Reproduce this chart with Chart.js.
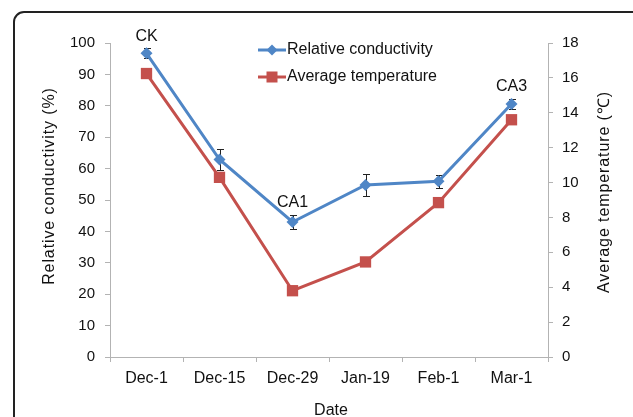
<!DOCTYPE html>
<html>
<head>
<meta charset="utf-8">
<script src="https://cdn.jsdelivr.net/npm/chart.js@4/dist/chart.umd.min.js"></script>
<style>
  html, body { margin:0; padding:0; background:#fff; overflow:hidden; }
  #wrap { position:relative; width:633px; height:417px; overflow:hidden; }
  #frame { position:absolute; left:13px; top:11px; width:700px; height:520px;
           border:2px solid #222; border-top-left-radius:11px; box-sizing:border-box; }
  canvas { position:absolute; left:0; top:0; }
</style>
</head>
<body>
<div id="wrap">
  <div id="frame"></div>
  <canvas id="c" width="633" height="417"></canvas>
</div>
<script>
const categories = ["Dec-1", "Dec-15", "Dec-29", "Jan-19", "Feb-1", "Mar-1"];
const conductivity = [96.7, 62.9, 43.0, 54.8, 56.0, 80.6];
const conductivityErr = [1.6, 3.2, 2.3, 3.4, 2.1, 1.6];
const temperature = [16.25, 10.3, 3.8, 5.45, 8.85, 13.6];
const pointLabels = ["CK", "", "CA1", "", "", "CA3"];
const leftTicks = { min: 0, max: 100, step: 10 };
const rightTicks = { min: 0, max: 18, step: 2 };
const seriesNames = ["Relative conductivity", "Average temperature"];
const axisTitles = { left: "Relative conductivity (%)", right: "Average temperature (℃)", bottom: "Date" };

const BLUE = "#4f86c6";
const RED = "#c4504c";
const AXIS = "#b3b3b3";
const FONT = "'Liberation Sans', Arial, Helvetica, sans-serif";

const overlay = {
  id: "overlay",
  beforeDatasetsDraw(chart) {
    const ctx = chart.ctx;
    const x = chart.scales.x, y = chart.scales.y;
    ctx.save();
    ctx.strokeStyle = "#222";
    ctx.lineWidth = 1;
    conductivity.forEach((v, i) => {
      const px = Math.round(x.getPixelForValue(i));
      const top = Math.round(y.getPixelForValue(v + conductivityErr[i]));
      const bot = Math.round(y.getPixelForValue(v - conductivityErr[i]));
      ctx.beginPath();
      ctx.moveTo(px + 0.5, top); ctx.lineTo(px + 0.5, bot);
      ctx.moveTo(px - 3, top + 0.5); ctx.lineTo(px + 4, top + 0.5);
      ctx.moveTo(px - 3, bot + 0.5); ctx.lineTo(px + 4, bot + 0.5);
      ctx.stroke();
    });
    ctx.restore();
  },
  afterDatasetsDraw(chart) {
    const ctx = chart.ctx;
    const x = chart.scales.x, y = chart.scales.y;
    ctx.save();
    ctx.font = "16px " + FONT;
    ctx.fillStyle = "#111";
    ctx.textAlign = "center";
    ctx.textBaseline = "middle";
    pointLabels.forEach((t, i) => {
      if (!t) return;
      const px = x.getPixelForValue(i);
      const top = y.getPixelForValue(conductivity[i] + conductivityErr[i]);
      ctx.fillText(t, px, top - 12);
    });
    ctx.restore();
  },
  afterDraw(chart) {
    const ctx = chart.ctx;
    const a = chart.chartArea;
    ctx.save();
    ctx.font = "16px " + FONT;
    ctx.fillStyle = "#111";
    ctx.textBaseline = "middle";
    // legend
    const lx = 258, ly = [50, 77];
    const cols = [BLUE, RED];
    seriesNames.forEach((n, i) => {
      ctx.strokeStyle = cols[i];
      ctx.lineWidth = 3;
      ctx.beginPath(); ctx.moveTo(lx, ly[i]); ctx.lineTo(lx + 28, ly[i]); ctx.stroke();
      ctx.fillStyle = cols[i];
      const cx = lx + 14;
      if (i === 0) {
        ctx.beginPath();
        ctx.moveTo(cx, ly[i] - 5.5); ctx.lineTo(cx + 5.5, ly[i]);
        ctx.lineTo(cx, ly[i] + 5.5); ctx.lineTo(cx - 5.5, ly[i]); ctx.closePath(); ctx.fill();
      } else {
        ctx.fillRect(cx - 5.5, ly[i] - 5.5, 11, 11);
      }
      ctx.fillStyle = "#111";
      ctx.textAlign = "left";
      ctx.fillText(n, lx + 29, ly[i]);
    });
    // axis titles
    ctx.textAlign = "center";
    ctx.save();
    ctx.letterSpacing = "0.9px";
    ctx.translate(50, 186); ctx.rotate(-Math.PI / 2);
    ctx.fillText(axisTitles.left, 0, 0); ctx.restore();
    ctx.save();
    ctx.letterSpacing = "0.9px";
    ctx.translate(605, 192); ctx.rotate(-Math.PI / 2);
    ctx.fillText(axisTitles.right, 0, 0); ctx.restore();
    ctx.fillText(axisTitles.bottom, (a.left + a.right) / 2 + 2, 411);
    ctx.restore();
  }
};

new Chart(document.getElementById("c"), {
  type: "line",
  data: {
    labels: categories,
    datasets: [
      { label: seriesNames[0], data: conductivity, yAxisID: "y",
        borderColor: BLUE, backgroundColor: BLUE, borderWidth: 3,
        pointStyle: "rectRot", pointRadius: 6, pointBorderWidth: 0, tension: 0, order: 0 },
      { label: seriesNames[1], data: temperature, yAxisID: "y1",
        borderColor: RED, backgroundColor: RED, borderWidth: 3,
        pointStyle: "rect", pointRadius: 8, pointBorderWidth: 0, tension: 0, order: 1 }
    ]
  },
  options: {
    responsive: false,
    animation: false,
    devicePixelRatio: 1,
    layout: { padding: { top: 43, left: 0, right: 0, bottom: 0 } },
    plugins: { legend: { display: false }, tooltip: { enabled: false } },
    scales: {
      x: {
        offset: true,
        afterFit(s) { s.height = 60; },
        border: { display: true, color: AXIS, width: 1 },
        grid: { display: true, offset: true, drawOnChartArea: false, drawTicks: true, tickLength: 5, color: AXIS },
        ticks: { color: "#111", font: { size: 16, family: FONT }, padding: 7, maxRotation: 0 }
      },
      y: {
        position: "left",
        min: leftTicks.min, max: leftTicks.max,
        afterFit(s) { s.width = 110; },
        border: { display: true, color: AXIS, width: 1 },
        grid: { display: true, drawOnChartArea: false, drawTicks: true, tickLength: 5, color: AXIS },
        ticks: { stepSize: leftTicks.step, color: "#111", font: { size: 15, family: FONT }, padding: 10 }
      },
      y1: {
        position: "right",
        min: rightTicks.min, max: rightTicks.max,
        afterFit(s) { s.width = 85; },
        border: { display: true, color: AXIS, width: 1 },
        grid: { display: true, drawOnChartArea: false, drawTicks: true, tickLength: 5, color: AXIS },
        ticks: { stepSize: rightTicks.step, color: "#111", font: { size: 15, family: FONT }, padding: 9 }
      }
    }
  },
  plugins: [overlay]
});
</script>
</body>
</html>
